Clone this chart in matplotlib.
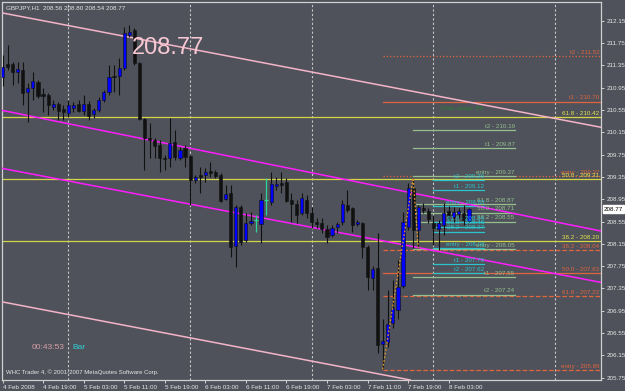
import matplotlib
matplotlib.use("Agg")
import matplotlib.pyplot as plt
import numpy as np

plt.rcParams["font.family"] = ["Liberation Sans", "DejaVu Sans"]

# ---------------- data ----------------
symbol_title = "GBPJPY,H1  208.56 208.80 208.54 208.77"
last_price = 208.77

opens = [211.14, 211.37, 211.37, 211.23, 211.27, 210.87, 210.94, 211.05, 210.84, 210.82,
         210.60, 210.66, 210.57, 210.49, 210.58, 210.66, 210.53, 210.66, 210.48, 210.55,
         210.73, 210.87, 211.16, 211.16, 211.30, 211.89, 211.98, 211.39, 210.39, 210.05,
         210.01, 209.92, 209.69, 209.69, 209.97, 209.69, 209.87, 209.72, 209.29, 209.38,
         209.38, 209.45, 209.44, 209.38, 208.95, 209.06, 208.11, 208.81, 208.22, 208.52,
         208.58, 208.50, 208.93, 208.90, 209.19, 209.24, 209.26, 208.93, 208.86, 208.70,
         208.93, 208.70, 208.54, 208.52, 208.41, 208.31, 208.45, 208.54, 208.84, 208.79,
         208.50, 208.52, 208.09, 207.54, 207.72, 206.35, 206.39, 206.73, 206.96, 207.39,
         208.45, 209.15, 208.40, 208.79, 208.74, 208.52, 208.41, 208.49, 208.74, 208.63,
         208.68, 208.70, 208.56]
highs = [211.53, 211.71, 211.41, 211.41, 211.41, 211.03, 211.23, 211.09, 210.94, 210.85,
         210.73, 210.69, 210.64, 210.73, 210.69, 210.73, 210.82, 210.71, 210.58, 210.78,
         210.91, 211.35, 211.35, 211.48, 212.04, 212.07, 212.02, 211.41, 210.40, 210.31,
         210.05, 210.01, 209.74, 210.40, 210.19, 209.88, 209.92, 209.74, 209.38, 209.53,
         209.51, 209.62, 209.47, 209.42, 209.20, 209.20, 208.84, 208.84, 208.70, 208.72,
         208.67, 209.06, 209.33, 209.44, 209.35, 209.44, 209.33, 209.06, 208.93, 209.06,
         209.02, 208.81, 208.61, 208.61, 208.49, 208.49, 208.54, 208.93, 209.11, 208.81,
         208.58, 208.54, 208.13, 207.75, 208.34, 206.80, 207.32, 207.50, 207.86, 208.72,
         209.24, 209.33, 208.84, 208.88, 208.79, 208.67, 208.58, 208.88, 208.83, 208.81,
         208.79, 208.84, 208.80]
lows = [210.98, 211.27, 211.00, 211.03, 210.64, 210.33, 210.73, 210.76, 210.51, 210.46,
        210.55, 210.37, 210.37, 210.42, 210.51, 210.51, 210.46, 210.37, 210.40, 210.51,
        210.69, 210.82, 210.87, 210.82, 211.27, 211.86, 211.35, 210.37, 209.47, 209.69,
        209.69, 209.44, 209.47, 209.53, 209.65, 209.65, 209.53, 208.84, 209.24, 209.06,
        209.26, 209.35, 209.33, 208.90, 208.93, 207.91, 207.73, 208.13, 208.18, 208.49,
        208.36, 208.16, 208.67, 208.84, 209.11, 209.06, 208.90, 208.54, 208.52, 208.67,
        208.61, 208.43, 208.43, 208.34, 208.16, 208.27, 208.34, 208.49, 208.72, 208.36,
        208.47, 207.89, 207.32, 207.32, 206.19, 205.90, 206.30, 206.64, 206.80, 207.36,
        208.40, 208.07, 208.07, 208.70, 208.52, 208.13, 208.04, 208.31, 208.58, 208.54,
        208.61, 208.49, 208.54]
closes = [211.32, 211.32, 211.23, 211.28, 210.85, 210.94, 211.07, 210.80, 210.80, 210.64,
          210.66, 210.53, 210.51, 210.64, 210.64, 210.53, 210.66, 210.44, 210.55, 210.73,
          210.87, 211.14, 211.14, 211.30, 211.93, 211.95, 211.39, 210.39, 210.05, 210.01,
          209.90, 209.69, 209.67, 209.96, 209.71, 209.83, 209.71, 209.29, 209.35, 209.35,
          209.44, 209.42, 209.36, 208.92, 209.04, 208.09, 208.81, 208.18, 208.52, 208.56,
          208.58, 208.93, 208.93, 209.22, 209.22, 209.20, 208.92, 208.86, 208.67, 208.97,
          208.70, 208.54, 208.50, 208.41, 208.27, 208.43, 208.50, 208.86, 208.76, 208.49,
          208.54, 208.09, 207.55, 207.70, 206.33, 206.41, 206.71, 207.00, 207.37, 208.54,
          209.15, 208.40, 208.81, 208.76, 208.59, 208.43, 208.52, 208.70, 208.67, 208.72,
          208.74, 208.58, 208.77]
marked_bars = [50, 52]

time_labels = ["4 Feb 2008", "4 Feb 19:00", "5 Feb 03:00", "5 Feb 11:00", "5 Feb 19:00",
               "6 Feb 03:00", "6 Feb 11:00", "6 Feb 19:00", "7 Feb 03:00", "7 Feb 11:00",
               "7 Feb 19:00", "8 Feb 03:00"]
time_label_bars = [0, 8, 16, 24, 32, 40, 48, 56, 64, 72, 80, 88]
day_separator_bars = [13, 37, 61, 85, 109]
price_ticks = [212.15, 211.75, 211.35, 210.95, 210.55, 210.15, 209.75, 209.35, 208.95,
               208.55, 208.15, 207.75, 207.35, 206.95, 206.55, 206.15, 205.75]

# trend lines: (bar0, price0, bar1, price1)
pink_lines = [(-0.1, 212.29, 118.0, 210.24), (-0.1, 207.11, 80.4, 205.71)]
magenta_lines = [(-0.5, 210.55, 118.0, 208.38), (-0.5, 209.51, 118.0, 207.46)]

# zigzag
zz_bars = [75, 81, 82]
zz_prices = [205.90, 209.33, 208.07]

# yellow full-width fibo levels
yellow_names = ["61.8", "50.0", "38.2"]
yellow_prices = [210.42, 209.31, 208.20]

# orange-red levels (from bar 75 to right)
red_names = ["t2", "t1", "entry", "38.2", "50.0", "61.8", "entry"]
red_prices = [211.52, 210.70, 209.37, 208.04, 207.63, 207.22, 205.89]
red_styles = [":", "-", ":", "--", "-", "--", "--"]

# green levels (bar 81 .. 101)
green_names = ["t2", "t1", "entry", "61.8", "50.0", "38.2", "entry", "t1", "t2"]
green_prices = [210.19, 209.87, 209.37, 208.87, 208.71, 208.55, 208.05, 207.55, 207.24]

# cyan levels (bar 85 .. 95)
cyan_names = ["t2", "t1", "entry", "61.8", "50.0", "38.2", "entry", "t1", "t2"]
cyan_prices = [209.29, 209.12, 208.83, 208.54, 208.46, 208.37, 208.08, 207.79, 207.62]

# ---------------- figure ----------------
W, H = 625, 391
BG = "#4f525a"
fig = plt.figure(figsize=(W / 100, H / 100), dpi=100, facecolor=BG)
ax = fig.add_axes([2 / W, 1 - 380 / H, 599 / W, 378 / H], facecolor=BG)

x0, x1 = -0.1, 118.05
y0, y1 = 205.709, 212.485
ax.set_xlim(x0, x1)
ax.set_ylim(y0, y1)

FS = 4.5
TXT = "#e6e6e6"

# day separators
for b in day_separator_bars:
    ax.axvline(b, color="#c8c8c8", lw=0.8, ls=(0, (2, 2)), zorder=1)

# yellow levels
for n, p in zip(yellow_names, yellow_prices):
    ax.axhline(p, color="#d6d447", lw=0.9, zorder=2)
    ax.text(x1 - 0.3, p + 0.02, f"{n} - {p:.2f}", color="#e4e24c", fontsize=FS,
            ha="right", va="bottom", zorder=6)

# orange-red levels
RED = "#e0643e"
for n, p, s in zip(red_names, red_prices, red_styles):
    ax.plot([75, x1], [p, p], color=RED, lw=0.9, ls=s, zorder=2)
    ax.text(x1 - 0.3, p + 0.02, f"{n} - {p:.2f}", color=RED, fontsize=FS,
            ha="right", va="bottom", zorder=5)

# green levels
GREEN = "#93c08e"
for n, p in zip(green_names, green_prices):
    ax.plot([81, 101], [p, p], color=GREEN, lw=0.9, zorder=3)
    ax.text(101, p + 0.02, f"{n} - {p:.2f}", color=GREEN, fontsize=FS,
            ha="right", va="bottom", zorder=5)

# cyan levels
CYAN = "#2cc4cc"
for n, p in zip(cyan_names, cyan_prices):
    ax.plot([85, 95], [p, p], color=CYAN, lw=0.9, zorder=3)
    ax.text(95, p + 0.02, f"{n} - {p:.2f}", color=CYAN, fontsize=FS,
            ha="right", va="bottom", zorder=5)

# trend lines
for (a, pa, b, pb) in pink_lines:
    ax.plot([a, b], [pa, pb], color="#f4b4c8", lw=1.1, zorder=3)
for (a, pa, b, pb) in magenta_lines:
    ax.plot([a, b], [pa, pb], color="#ff1cff", lw=1.1, zorder=3)

# candles
xs = np.arange(len(opens))
o = np.array(opens); h = np.array(highs); l = np.array(lows); c = np.array(closes)
for i in xs:
    if i in marked_bars:
        col = "#2ad69a"
        ax.vlines(i, l[i], h[i], color=col, lw=0.9, zorder=4)
        ax.hlines(c[i], i - 0.35, i + 0.35, color=col, lw=0.9, zorder=4)
        continue
    bull = c[i] >= o[i]
    ax.vlines(i, l[i], h[i], color="#111111", lw=0.8, zorder=4)
    bot = min(o[i], c[i])
    hgt = max(abs(c[i] - o[i]), 0.02)
    ax.bar(i, hgt, bottom=bot, width=0.62, color="#0000ff" if bull else "#111111",
           edgecolor="#111111", linewidth=0.4, zorder=4)

# zigzag
ax.plot(zz_bars, zz_prices, color="#e0962a", lw=0.9, ls=(0, (1.5, 1.5)), zorder=4)

# texts
ax.text(0.006, 0.99, symbol_title, transform=ax.transAxes, color=TXT, fontsize=FS,
        ha="left", va="top", zorder=7)
ax.text(25.6, 211.66, f"{last_price:.2f}", color="#f8c8d4", fontsize=17,
        ha="left", va="center", zorder=7)
ax.text(86.5, 210.58, "Daily range: 86", color="#2a7f34", fontsize=FS, ha="left",
        va="center", zorder=7)
ax.text(0.05, 0.085, "00:43:53", transform=ax.transAxes, color="#d8a0a8", fontsize=6,
        ha="left", va="center", zorder=7)
ax.text(0.118, 0.085, "Bar", transform=ax.transAxes, color="#30d0d8", fontsize=6,
        ha="left", va="center", zorder=7)
ax.text(0.006, 0.012, "WHC Trader 4, \u00a9 2001-2007 MetaQuotes Software Corp.",
        transform=ax.transAxes, color=TXT, fontsize=4.3, ha="left", va="bottom", zorder=7)

# axes styling
for sp in ax.spines.values():
    sp.set_color("#d0d0d0")
    sp.set_linewidth(0.9)
ax.yaxis.tick_right()
ax.set_yticks(price_ticks)
ax.set_yticklabels([f"{p:.2f}" for p in price_ticks])
ax.set_xticks(time_label_bars)
ax.set_xticklabels(time_labels)
ax.tick_params(axis="y", colors="#d0d0d0", labelcolor=TXT, labelsize=FS, length=2.5,
               width=0.7, pad=1.5)
ax.tick_params(axis="x", colors="#d0d0d0", labelcolor=TXT, labelsize=FS, length=2.5,
               width=0.7, pad=1)
for lab in ax.get_xticklabels():
    lab.set_horizontalalignment("left")

# current price box
ax.annotate(f"{last_price:.2f}", xy=(1.0, last_price), xycoords=("axes fraction", "data"),
            xytext=(2, 0), textcoords="offset points", fontsize=FS, color="#000000",
            ha="left", va="center", annotation_clip=False, zorder=8,
            bbox=dict(boxstyle="square,pad=0.2", fc="#ffffff", ec="#ffffff"))

fig.savefig("out.png", dpi=100, facecolor=BG)
